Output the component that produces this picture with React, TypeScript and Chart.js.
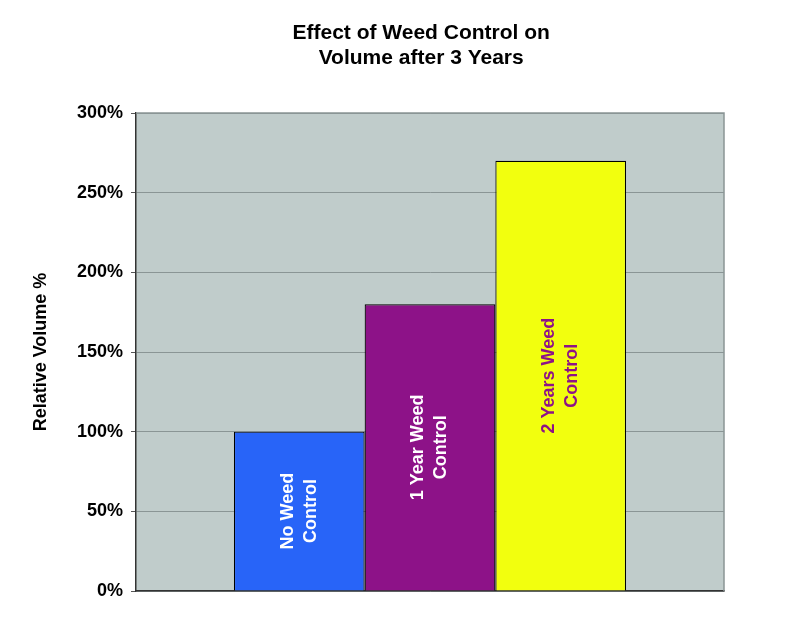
import React, { useEffect, useRef } from "react";
import { Chart, registerables } from "chart.js";

Chart.register(...registerables);

const titleLines = ["Effect of Weed Control on", "Volume after 3 Years"];
const categories = [["No Weed", "Control"], ["1 Year Weed", "Control"], ["2 Years Weed", "Control"]];
const values = [100, 180, 270];
const barColors = ["#2864f8", "#8d1288", "#f2ff0e"];
const labelColors = ["#ffffff", "#ffffff", "#8d1288"];
const yTicks = [0, 50, 100, 150, 200, 250, 300];
const yTitle = "Relative Volume %";

const FONT = "'Liberation Sans', Arial, sans-serif";

export default function App() {
  const ref = useRef<HTMLCanvasElement | null>(null);
  useEffect(() => {
    if (!ref.current) return;
    const bgPlugin = {
      id: "bgPlugin",
      beforeDraw(chart: any) {
        const { ctx, chartArea: a } = chart;
        ctx.save();
        ctx.fillStyle = "#c0cccb";
        ctx.fillRect(a.left, a.top, a.right - a.left, a.bottom - a.top);
        ctx.restore();
      },
      afterDraw(chart: any) {
        const { ctx, chartArea: a } = chart;
        ctx.save();
        ctx.strokeStyle = "#8a9595";
        ctx.lineWidth = 1.5;
        ctx.beginPath();
        ctx.moveTo(a.left, a.top);
        ctx.lineTo(a.right, a.top);
        ctx.lineTo(a.right, a.bottom);
        ctx.stroke();
        ctx.fillStyle = "#000";
        ctx.font = `bold 21px ${FONT}`;
        ctx.textAlign = "center";
        ctx.textBaseline = "middle";
        const cx = chart.width * 0.52;
        titleLines.forEach((t, i) => ctx.fillText(t, cx, 33 + i * 25));
        ctx.restore();
      },
      afterDatasetsDraw(chart: any) {
        const { ctx } = chart;
        ctx.save();
        ctx.font = `bold 18px ${FONT}`;
        ctx.textAlign = "center";
        ctx.textBaseline = "middle";
        chart.data.datasets.forEach((ds: any, i: number) => {
          const el = chart.getDatasetMeta(i).data[0];
          if (!el) return;
          const cy = (el.y + el.base) / 2;
          ctx.save();
          ctx.translate(el.x, cy);
          ctx.rotate(-Math.PI / 2);
          ctx.fillStyle = labelColors[i];
          const lines = categories[i];
          const lh = 23;
          lines.forEach((t, j) => ctx.fillText(t, 0, (j - (lines.length - 1) / 2) * lh));
          ctx.restore();
        });
        ctx.restore();
      },
    };
    const chart = new Chart(ref.current, {
      type: "bar",
      data: {
        labels: [""],
        datasets: values.map((v, i) => ({
          label: categories[i].join(" "),
          data: [v],
          backgroundColor: barColors[i],
          borderColor: "#000000",
          borderWidth: 1.2,
          categoryPercentage: 0.667,
          barPercentage: 1,
        })),
      },
      options: {
        animation: false,
        responsive: false,
        maintainAspectRatio: false,
        layout: { padding: { left: 0, right: 86, top: 113, bottom: 39 } },
        plugins: { legend: { display: false }, title: { display: false }, tooltip: { enabled: false } },
        scales: {
          x: {
            display: true,
            ticks: { display: false },
            grid: { display: false },
            border: { display: true, color: "#333", width: 1.5 },
            afterFit(scale: any) { scale.height = 0; },
          },
          y: {
            min: 0,
            max: 300,
            afterBuildTicks(scale: any) { scale.ticks = yTicks.map((v) => ({ value: v })); },
            ticks: {
              callback: (v: any) => `${v}%`,
              color: "#000",
              font: { family: FONT, size: 18, weight: "bold" },
              padding: 8,
            },
            grid: { color: "#8a9595", lineWidth: 1, tickLength: 5, tickColor: "#555" },
            border: { display: true, color: "#333", width: 1.5 },
            title: {
              display: true,
              text: yTitle,
              color: "#000",
              font: { family: FONT, size: 18, weight: "bold" },
              padding: { top: 30, bottom: 0 },
            },
            afterFit(scale: any) { scale.width = 136; },
          },
        },
      },
      plugins: [bgPlugin],
    });
    return () => chart.destroy();
  }, []);
  return (
    <div style={{ position: "fixed", left: 0, top: 0, width: 810, height: 630, background: "#fff" }}>
      <canvas ref={ref} width={810} height={630} style={{ width: 810, height: 630 }} />
    </div>
  );
}
